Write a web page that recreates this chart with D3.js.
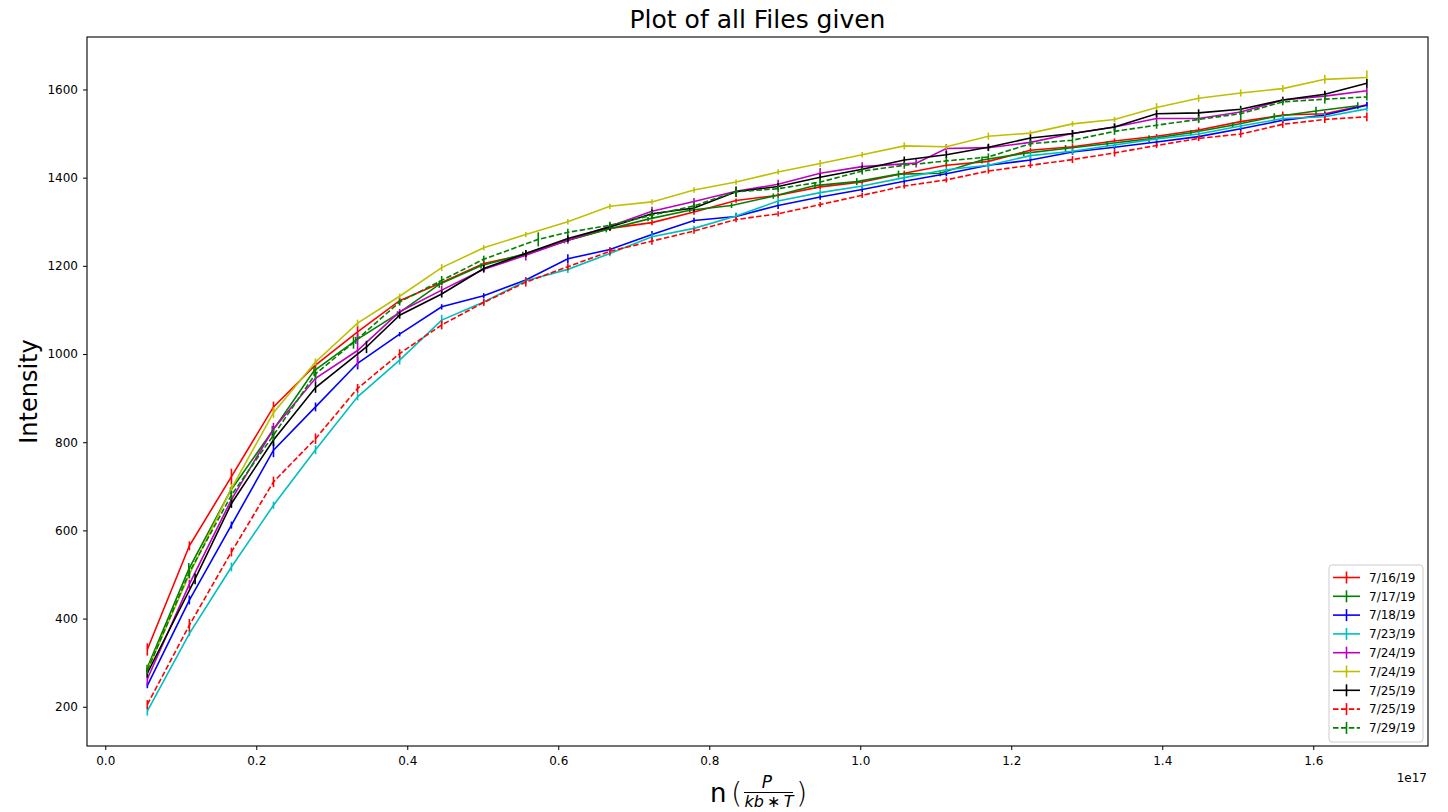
<!DOCTYPE html>
<html><head><meta charset="utf-8">
<script src="https://cdn.jsdelivr.net/npm/d3@7"></script>
<style>
body{margin:0;background:#fff}
svg{display:block}
text{font-family:"DejaVu Sans",sans-serif;fill:#000}
</style>
</head><body>
<svg id="chart" width="1448" height="812"></svg>
<script>
// ---------- data (n in units of 1e17) ----------
const seriesLabels = ["7/16/19","7/17/19","7/18/19","7/23/19","7/24/19","7/24/19","7/25/19","7/25/19","7/29/19"];

const nValues = [0.0557,0.1114,0.1671,0.2228,0.2785,0.3342,0.3899,0.4456,0.5013,0.557,0.6127,0.6684,0.7241,0.7798,0.8355,0.8912,0.9469,1.0026,1.0583,1.114,1.1697,1.2254,1.2811,1.3368,1.3925,1.4482,1.5039,1.5596,1.6153,1.671];
const nValues0717 = [0.0553,0.1106,0.1659,0.2212,0.2765,0.3318,0.3871,0.4424,0.4977,0.553,0.6083,0.6636,0.7189,0.7742,0.8295,0.8848,0.9401,0.9954,1.0507,1.106,1.1613,1.2166,1.2719,1.3272,1.3825,1.4378,1.4931,1.5484,1.6037,1.659];
const nValues0724b = [0.0557,0.1114,0.1671,0.2228,0.2785,0.3342,0.3899,0.4456,0.5013,0.557,0.6127,0.6684,0.7241,0.7798,0.8355,0.8912,0.9469,1.0026,1.074,1.114,1.1697,1.2254,1.2811,1.3368,1.3925,1.4482,1.5039,1.5596,1.6153,1.671];
const nValues0725a = [0.0557,0.119,0.1671,0.2228,0.2785,0.346,0.3899,0.4456,0.5013,0.557,0.6127,0.6684,0.7241,0.7798,0.8355,0.8912,0.9469,1.0026,1.0583,1.114,1.1697,1.2254,1.2811,1.3368,1.3925,1.4482,1.5039,1.5596,1.6153,1.671];
const nValues0729 = [0.0557,0.1114,0.1671,0.2228,0.2785,0.3288,0.3899,0.4456,0.5013,0.5735,0.6127,0.6684,0.7241,0.7798,0.8355,0.8912,0.9469,1.0026,1.0583,1.114,1.1697,1.2254,1.2811,1.3368,1.3925,1.4482,1.5039,1.5596,1.6153,1.671];

const int0716  = [330,565,722,880,975,1050,1121,1162,1205,1226,1258,1285,1298,1322,1348,1360,1379,1390,1410,1428,1437,1462,1470,1483,1494,1508,1527,1542,1545,1565];
const int0717  = [287,512,690,825,962,1031,1091,1158,1200,1226,1256,1282,1306,1326,1337,1358,1382,1391,1408,1410,1440,1455,1466,1477,1488,1502,1519,1538,1551,1563];
const int0718  = [248,442,612,782,880,979,1045,1107,1132,1168,1216,1237,1271,1303,1312,1337,1356,1373,1392,1409,1428,1440,1458,1469,1481,1493,1511,1530,1542,1564];
const int0723  = [190,366,517,657,783,903,986,1077,1118,1166,1192,1228,1266,1285,1313,1347,1366,1381,1400,1418,1428,1450,1460,1474,1488,1499,1517,1534,1538,1556];
const int0724a = [263,478,670,830,945,1008,1096,1145,1192,1224,1258,1290,1324,1346,1369,1385,1410,1425,1433,1466,1468,1480,1500,1515,1534,1534,1549,1576,1585,1597];
const int0724b = [283,500,695,867,982,1070,1131,1196,1241,1271,1300,1335,1345,1372,1390,1413,1432,1452,1472,1470,1494,1501,1522,1532,1559,1580,1592,1602,1623,1627];
const int0725a = [276,490,661,805,924,1016,1088,1136,1194,1228,1262,1288,1318,1331,1368,1380,1401,1419,1440,1452,1469,1490,1500,1515,1545,1547,1555,1576,1589,1614];
const int0725b = [205,385,551,710,808,922,1001,1066,1117,1163,1198,1233,1256,1279,1305,1318,1339,1360,1381,1395,1415,1428,1441,1456,1473,1489,1499,1521,1532,1538];
const int0729  = [282,505,680,816,955,1026,1118,1167,1215,1260,1276,1292,1315,1336,1368,1375,1390,1415,1428,1438,1447,1477,1485,1505,1519,1532,1545,1572,1578,1583];

const err0716  = [14,10,18,12,8,14,6,6,6,6,5,6,6,6,5,6,6,5,6,5,6,5,6,6,5,6,6,8,6,6];
const err0717  = [8,14,8,12,10,8,6,8,6,6,5,6,5,5,6,6,8,8,8,7,8,6,8,6,8,6,6,8,10,8];
const err0718  = [6,10,8,16,10,14,5,6,6,6,10,5,8,6,8,8,6,6,6,6,5,6,6,5,6,6,5,6,6,8];
const err0723  = [10,6,10,8,10,8,10,12,6,6,8,6,8,6,8,8,6,6,6,6,8,8,6,6,5,6,6,8,8,6];
const err0724a = [14,10,10,14,10,38,6,10,8,12,8,8,10,8,10,10,12,10,10,10,8,8,8,8,8,8,6,8,10,8];
const err0724b = [8,8,10,12,8,8,6,8,6,6,6,6,6,6,6,6,8,6,8,6,8,6,6,6,10,8,8,8,10,16];
const err0725a = [10,12,10,14,12,14,8,8,8,8,8,8,10,8,12,8,8,8,8,8,8,8,8,8,8,8,8,6,8,10];
const err0725b = [10,14,10,12,12,10,10,10,8,10,8,8,8,6,6,6,6,6,6,6,6,6,8,8,6,6,8,8,8,10];
const err0729  = [8,14,10,12,12,14,8,10,8,16,8,8,10,8,10,8,8,8,8,8,8,8,8,8,8,8,14,8,10,8];

const xTickValues = [0.0,0.2,0.4,0.6,0.8,1.0,1.2,1.4,1.6];
const yTickValues = [200,400,600,800,1000,1200,1400,1600];

// ---------- styles ----------
const seriesColors = ["#ff0000","#008000","#0000ff","#00bfbf","#bf00bf","#bfbf00","#000000","#ff0000","#008000"];
const seriesDashed = [false,false,false,false,false,false,false,true,true];

const xs = [nValues,nValues0717,nValues,nValues,nValues0724b,nValues,nValues0725a,nValues,nValues0729];
const ys = [int0716,int0717,int0718,int0723,int0724a,int0724b,int0725a,int0725b,int0729];
const es = [err0716,err0717,err0718,err0723,err0724a,err0724b,err0725a,err0725b,err0729];

const series = seriesLabels.map((label,i)=>({
  label, color:seriesColors[i], dashed:seriesDashed[i],
  points: ys[i].map((v,k)=>({x:xs[i][k], y:v, e:es[i][k]}))
}));

// ---------- layout ----------
const L=87, R=1428, T=37, B=746;
const svg = d3.select("#chart");
const x = d3.scaleLinear().domain([-0.0242,1.752]).range([L,R]);
const y = d3.scaleLinear().domain([111,1719]).range([B,T]);

// axes
const gx = svg.append("g").attr("transform",`translate(0,${B})`)
  .call(d3.axisBottom(x).tickValues(xTickValues).tickFormat(d3.format(".1f")).tickSize(4).tickPadding(6).tickSizeOuter(0));
const gy = svg.append("g").attr("transform",`translate(${L},0)`)
  .call(d3.axisLeft(y).tickValues(yTickValues).tickFormat(d3.format("d")).tickSize(4).tickPadding(5).tickSizeOuter(0));
[gx,gy].forEach(g=>{
  g.select(".domain").remove();
  g.selectAll(".tick line").attr("stroke","#000").attr("stroke-width",1);
  g.selectAll(".tick text").attr("font-size",12).attr("font-family","DejaVu Sans").attr("fill","#000");
});

// series
const line = d3.line().x(d=>x(d.x)).y(d=>y(d.y));
series.forEach(s=>{
  const g = svg.append("g");
  g.append("path").datum(s.points).attr("d",line).attr("fill","none")
    .attr("stroke",s.color).attr("stroke-width",1.6)
    .attr("stroke-dasharray", s.dashed ? "5.5,2.4" : null);
  g.selectAll("line.err").data(s.points).enter().append("line").attr("class","err")
    .attr("x1",d=>x(d.x)).attr("x2",d=>x(d.x))
    .attr("y1",d=>y(d.y-d.e)).attr("y2",d=>y(d.y+d.e))
    .attr("stroke",s.color).attr("stroke-width",1.6);
});

// frame
svg.append("rect").attr("x",L).attr("y",T).attr("width",R-L).attr("height",B-T)
  .attr("fill","none").attr("stroke","#000").attr("stroke-width",1.1);

// legend
const lg = svg.append("g");
const lgTop=565, lgRowStart=577.5, lgRow=18.8;
lg.append("rect").attr("x",1329).attr("y",lgTop).attr("width",94).attr("height",177).attr("rx",3)
  .attr("fill","#fff").attr("fill-opacity",0.8).attr("stroke","#cccccc");
series.forEach((s,i)=>{
  const cy = lgRowStart + i*lgRow;
  lg.append("line").attr("x1",1333).attr("x2",1360).attr("y1",cy).attr("y2",cy)
    .attr("stroke",s.color).attr("stroke-width",1.6).attr("stroke-dasharray", s.dashed ? "5.5,2.4" : null);
  lg.append("line").attr("x1",1346.5).attr("x2",1346.5).attr("y1",cy-6).attr("y2",cy+6)
    .attr("stroke",s.color).attr("stroke-width",1.6);
  lg.append("text").attr("x",1369).attr("y",cy).attr("dy","0.35em").attr("font-size",12).text(s.label);
});

// texts
svg.append("text").attr("x",(L+R)/2).attr("y",28).attr("text-anchor","middle").attr("font-size",25).text("Plot of all Files given");
svg.append("text").attr("transform",`translate(37,${(T+B)/2}) rotate(-90)`).attr("text-anchor","middle").attr("font-size",24).text("Intensity");
svg.append("text").attr("x",R-1).attr("y",782).attr("text-anchor","end").attr("font-size",12).text("1e17");

// x label with fraction
const xl = svg.append("g");
xl.append("text").attr("x",710).attr("y",802).attr("font-size",26).text("n");
xl.append("text").attr("x",731).attr("y",803).attr("font-size",29).attr("font-weight",200).text("(");
xl.append("text").attr("x",767).attr("y",788).attr("text-anchor","middle").attr("font-size",17).attr("font-style","italic").text("P");
xl.append("line").attr("x1",744).attr("x2",793).attr("y1",792.5).attr("y2",792.5).attr("stroke","#000").attr("stroke-width",1);
xl.append("text").attr("x",769).attr("y",807).attr("text-anchor","middle").attr("font-size",16).attr("font-style","italic").text("kb\u2009\u2217\u2009T");
xl.append("text").attr("x",796).attr("y",803).attr("font-size",29).attr("font-weight",200).text(")");
</script>
</body></html>
